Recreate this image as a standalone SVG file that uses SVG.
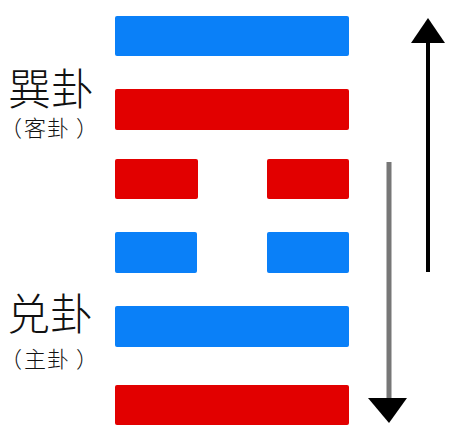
<svg xmlns="http://www.w3.org/2000/svg" width="458" height="435" viewBox="0 0 458 435">
<style>
.blue{fill:#0a80f8}
.red{fill:#e20000}
.big{font-family:"Noto Sans CJK SC","Noto Sans CJK JP",sans-serif;font-size:43px;fill:#111;font-weight:300}
.small{font-family:"Noto Sans CJK SC","Noto Sans CJK JP",sans-serif;font-size:22px;fill:#111;font-weight:300}
</style>
<rect width="458" height="435" fill="#fff"/>
<g id="line1"><rect class="blue" x="115" y="16" width="234" height="40" rx="2"/></g>
<g id="line2"><rect class="red" x="115" y="89" width="234" height="41" rx="2"/></g>
<g id="line3"><rect class="red" x="115" y="159" width="83" height="40" rx="2"/><rect class="red" x="267" y="159" width="82" height="40" rx="2"/></g>
<g id="line4"><rect class="blue" x="115" y="232" width="82" height="41" rx="2"/><rect class="blue" x="267" y="232" width="82" height="41" rx="2"/></g>
<g id="line5"><rect class="blue" x="115" y="306" width="234" height="41" rx="2"/></g>
<g id="line6"><rect class="red" x="115" y="385" width="234" height="40" rx="2"/></g>
<g id="label-xun">
<text class="big" x="8" y="105">巽卦</text>
<text class="small" x="0 24 47 76" y="136">（客卦）</text>
</g>
<g id="label-dui">
<text class="big" x="7" y="330">兑卦</text>
<text class="small" x="0 24 47 76" y="367">（主卦）</text>
</g>
<g id="connectors">
<line x1="428" y1="272" x2="428" y2="40" stroke="#000" stroke-width="4"/>
<polygon points="428,18 445,43 411,43" fill="#000"/>
<line x1="389" y1="162" x2="389" y2="400" stroke="#777" stroke-width="5"/>
<polygon points="368,398 407,398 389,423" fill="#000"/>
</g>
</svg>
